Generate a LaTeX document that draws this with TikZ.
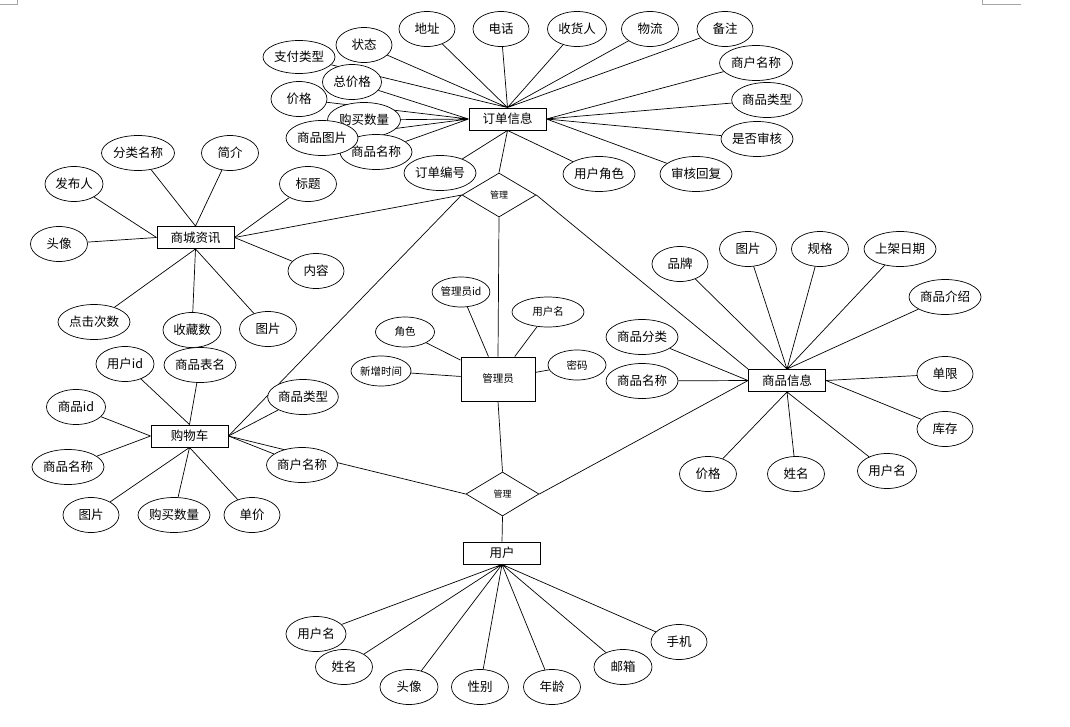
\documentclass[tikz,border=0pt]{standalone}
\usepackage{fontspec}
\setmainfont{Noto Sans CJK SC}
\usetikzlibrary{shapes.geometric,backgrounds}

\begin{document}
\begin{tikzpicture}[x=1pt,y=-1pt,
  ent/.style={draw,line width=0.9pt,fill=white,minimum width=77pt,minimum height=22pt,inner sep=0pt,font=\fontsize{12.5}{14}\selectfont},
  att/.style={draw,ellipse,line width=0.7pt,fill=white,minimum width=57pt,minimum height=35pt,inner sep=0pt,font=\fontsize{12.5}{14}\selectfont},
  satt/.style={att,minimum height=30pt,font=\fontsize{10.5}{12}\selectfont},
  rel/.style={draw,diamond,line width=0.7pt,fill=white,minimum width=74pt,minimum height=44pt,inner sep=0pt,font=\fontsize{9}{10}\selectfont},
  link/.style={line width=0.7pt}]
\useasboundingbox (0,0) rectangle (1070,726);

% page corners
\draw[gray!70,line width=0.8pt] (17,0) -- (17,4) -- (0,4);
\draw[gray!70,line width=0.8pt] (982,0) -- (982,4) -- (1021,4);

% entities
\node[ent] (order) at (507.5,119) {订单信息};
\node[ent] (news) at (195.5,237.5) {商城资讯};
\node[ent,minimum width=74pt,minimum height=44pt,font=\fontsize{10.5}{12}\selectfont] (admin) at (498,379) {管理员};
\node[ent] (goods) at (787,380.5) {商品信息};
\node[ent] (cart) at (189.5,436) {购物车};
\node[ent] (user) at (502,553) {用户};

% relations
\node[rel] (m1) at (499,195) {管理};
\node[rel,minimum width=73pt] (m2) at (502.5,494) {管理};

% order
\node[att,minimum width=72pt,minimum height=33pt] (opay) at (299,57) {支付类型};
\node[att,minimum width=56pt] (ostate) at (364,45) {状态};
\node[att,minimum width=56pt] (oaddr) at (427,29) {地址};
\node[att,minimum width=56pt] (otel) at (501,29) {电话};
\node[att,minimum width=59pt] (orecv) at (577,29) {收货人};
\node[att] (oship) at (650,29) {物流};
\node[att,minimum width=56pt] (onote) at (725,29) {备注};
\node[att,minimum width=73pt] (oshop) at (756,63) {商户名称};
\node[att,minimum width=70pt] (otype) at (767,100) {商品类型};
\node[att,minimum width=72pt] (ocheck) at (757,139) {是否审核};
\node[att,minimum width=72pt] (oreply) at (696,174) {审核回复};
\node[att,minimum width=72pt] (orole) at (599,174) {用户角色};
\node[att,minimum width=72pt] (ono) at (440,173) {订单编号};
\node[att,minimum width=56pt] (oprice) at (299,99) {价格};
\node[att,minimum width=59pt] (ototal) at (352,82) {总价格};
\node[att,minimum width=73pt] (onum) at (364,120) {购买数量};
\node[att,minimum width=72pt] (oname) at (376,152) {商品名称};
\node[att,minimum width=72pt] (opic) at (322,138) {商品图片};

% news
\node[att,minimum width=58pt] (npub) at (74,184) {发布人};
\node[att,minimum width=73pt] (ncat) at (138,153) {分类名称};
\node[att] (nbrief) at (230,153) {简介};
\node[att] (ntitle) at (308,184) {标题};
\node[att] (nhead) at (59,244) {头像};
\node[att,minimum width=56pt] (ncont) at (316,271) {内容};
\node[att,minimum width=72pt] (nclick) at (94,322) {点击次数};
\node[att,minimum width=58pt] (nfav) at (192,330) {收藏数};
\node[att] (npic) at (268,329) {图片};

% cart
\node[att,minimum width=58pt] (cuid) at (125,364) {用户id};
\node[att,minimum width=72pt] (ctab) at (200,365) {商品表名};
\node[att,minimum width=59pt] (cgid) at (76,407) {商品id};
\node[att,minimum width=72pt] (cname) at (68,467) {商品名称};
\node[att,minimum width=70pt] (ctype) at (303,397) {商品类型};
\node[att,minimum width=71pt] (cshop) at (302,465) {商户名称};
\node[att,minimum width=56pt] (cpic) at (91,515) {图片};
\node[att,minimum width=72pt] (cnum) at (174,515) {购买数量};
\node[att,minimum width=56pt] (cunit) at (252,515) {单价};

% admin
\node[satt] (aid) at (461,292) {管理员id};
\node[satt,minimum width=72pt] (aname) at (548,312) {用户名};
\node[satt,minimum width=59pt] (arole) at (405,332) {角色};
\node[satt,minimum width=60pt] (atime) at (381,371) {新增时间};
\node[satt,minimum width=58pt] (apwd) at (577,365) {密码};

% goods
\node[att,minimum width=56pt] (gbrand) at (680,264) {品牌};
\node[att] (gpic) at (748,249) {图片};
\node[att] (gspec) at (820,249) {规格};
\node[att,minimum width=72pt] (gdate) at (900,249) {上架日期};
\node[att,minimum width=72pt] (gintro) at (945,297) {商品介绍};
\node[att,minimum width=56pt] (glimit) at (945,374) {单限};
\node[att,minimum width=56pt] (gstock) at (945,429) {库存};
\node[att,minimum width=59pt] (guser) at (887,471) {用户名};
\node[att] (gperson) at (796,474) {姓名};
\node[att] (gprice) at (708,474) {价格};
\node[att,minimum width=72pt] (gcat) at (642,337) {商品分类};
\node[att,minimum width=72pt] (gname) at (642,381) {商品名称};

% user
\node[att,minimum width=60pt] (uname) at (316,634) {用户名};
\node[att] (ureal) at (344,667) {姓名};
\node[att,minimum width=58pt] (uhead) at (409,687) {头像};
\node[att] (usex) at (480,687) {性别};
\node[att] (uage) at (552,687) {年龄};
\node[att,minimum width=58pt] (umail) at (623,667) {邮箱};
\node[att,minimum width=56pt] (uphone) at (679,642) {手机};

% connectors
\begin{pgfonlayer}{background}
\draw[link] (opay) -- (order.north) (ostate) -- (order.north) (oaddr) -- (order.north)
  (otel) -- (order.north) (orecv) -- (order.north) (oship) -- (order.north) (onote) -- (order.north);
\draw[link] (ototal) -- (order.west) (oprice) -- (order.west) (onum) -- (order.west)
  (opic) -- (order.west) (oname) -- (order.west);
\draw[link] (oshop) -- (order.east) (otype) -- (order.east) (ocheck) -- (order.east) (oreply) -- (order.east);
\draw[link] (ono) -- (order.south) (orole) -- (order.south);

\draw[link] (npub) -- (news.west) (nhead) -- (news.west);
\draw[link] (ncat) -- (news.north) (nbrief) -- (news.north);
\draw[link] (ntitle) -- (news.east) (ncont) -- (news.east);
\draw[link] (nclick) -- (news.south) (nfav) -- (news.south) (npic) -- (news.south);

\draw[link] (cuid) -- (cart.north) (ctab) -- (cart.north);
\draw[link] (cgid) -- (cart.west) (cname) -- (cart.west);
\draw[link] (ctype) -- (cart.east) (cshop) -- (cart.east);
\draw[link] (cpic) -- (cart.south) (cnum) -- (cart.south) (cunit) -- (cart.south);

\draw[link] (aid) -- (admin) (aname) -- (admin) (arole) -- (admin) (atime) -- (admin) (apwd) -- (admin);

\draw[link] (gbrand) -- (goods.north) (gpic) -- (goods.north) (gspec) -- (goods.north)
  (gdate) -- (goods.north) (gintro) -- (goods.north);
\draw[link] (gcat) -- (goods.west) (gname) -- (goods.west);
\draw[link] (glimit) -- (goods.east) (gstock) -- (goods.east);
\draw[link] (gprice) -- (goods.south) (gperson) -- (goods.south) (guser) -- (goods.south);

\draw[link] (uname) -- (user.south) (ureal) -- (user.south) (uhead) -- (user.south) (usex) -- (user.south)
  (uage) -- (user.south) (umail) -- (user.south) (uphone) -- (user.south);

% the two relations
\draw[link] (news.east) -- (m1.west) (cart.east) -- (m1.west) (m1.east) -- (goods.north west)
  (m1.north) -- (order.south) (m1.south) -- (admin.north);
\draw[link] (admin.south) -- (m2.north) (cart.east) -- (m2.west) (m2.east) -- (goods.west)
  (m2.south) -- (user.north);
\end{pgfonlayer}
\end{tikzpicture}
\end{document}
